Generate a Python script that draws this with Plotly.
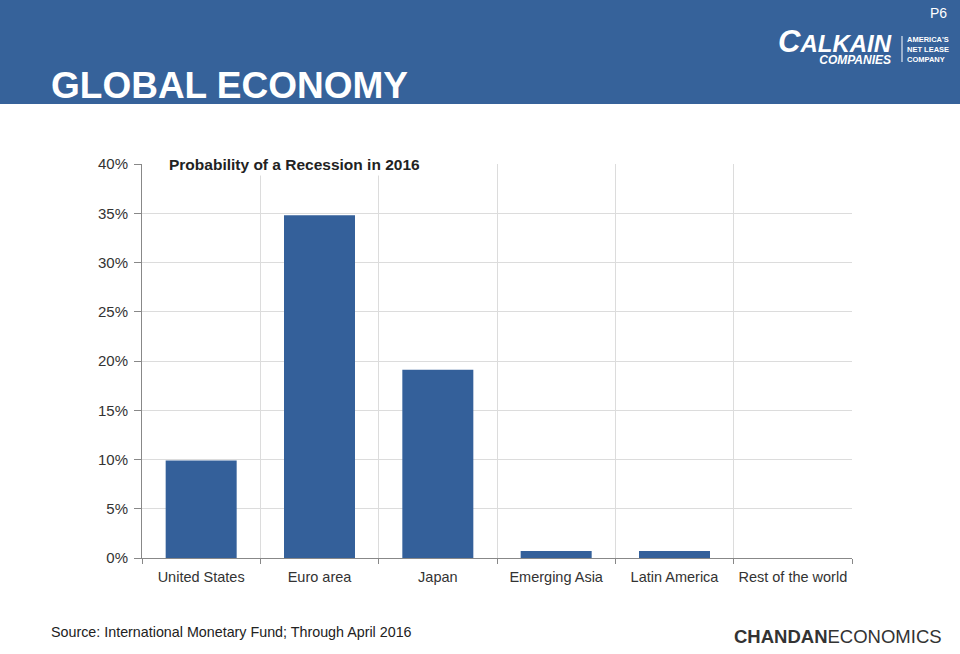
import plotly.graph_objects as go

categories = ["United States", "Euro area", "Japan", "Emerging Asia", "Latin America", "Rest of the world"]
probabilities = [9.9, 34.8, 19.1, 0.7, 0.7, 0.0]
y_ticks = [0, 5, 10, 15, 20, 25, 30, 35, 40]
y_tick_labels = [f"{v}%" for v in y_ticks]

HEADER = "#36629a"
BAR = "#34609a"
FONT = "Liberation Sans, Arial, sans-serif"

fig = go.Figure()
fig.add_trace(go.Bar(x=categories, y=probabilities, marker=dict(color=BAR, line=dict(width=0)),
                     width=0.6, hoverinfo="x+y"))

logo_text = ("<b><i><span style='font-size:31px'>C</span><span style='font-size:24px'>ALKAIN</span>"
             "<br><span style='font-size:12px'>COMPANIES</span></i></b>")

fig.update_layout(
    width=960, height=654,
    margin=dict(l=142, r=108, t=164, b=96),
    paper_bgcolor="white", plot_bgcolor="white",
    showlegend=False,
    font=dict(family=FONT, size=14, color="#333333"),
    xaxis=dict(type="category", tickson="boundaries", showgrid=True, gridcolor="#dcdcdc", gridwidth=1,
               showline=True, linecolor="#888888", linewidth=1, ticks="outside", ticklen=5,
               tickcolor="#888888", ticklabelstandoff=6, tickfont=dict(size=14.5, color="#333333")),
    yaxis=dict(range=[0, 40], tickvals=y_ticks, ticktext=y_tick_labels, showgrid=True,
               gridcolor="#dcdcdc", gridwidth=1, showline=True, linecolor="#888888", linewidth=1,
               ticks="outside", ticklen=7, tickcolor="#888888", zeroline=False,
               ticklabelstandoff=3, tickfont=dict(size=15, color="#333333")),
    shapes=[
        dict(type="rect", xref="paper", yref="paper", x0=-142/710, x1=1 + 108/710,
             y0=1 + 60/394, y1=1 + 164/394, fillcolor=HEADER, line=dict(width=0), layer="below"),
    ],
    annotations=[
        dict(text="<b>Probability of a Recession in 2016</b>", xref="paper", yref="paper",
             x=24/710, y=1.0, xanchor="left", yanchor="middle", showarrow=False,
             bgcolor="white", borderpad=2, font=dict(size=15.5, color="#222222", family=FONT)),
        dict(text="<b>GLOBAL ECONOMY</b>", xref="paper", yref="paper", x=-93/710, y=1 + 78/394,
             xanchor="left", yanchor="middle", showarrow=False,
             font=dict(size=37, color="white", family=FONT)),
        dict(text="P6", xref="paper", yref="paper", x=1 + 97/710, y=1 + 151/394,
             xanchor="right", yanchor="middle", showarrow=False,
             font=dict(size=14, color="white", family=FONT)),
        dict(text=logo_text, xref="paper", yref="paper",
             x=1 + 41/710, y=1 + 141/394, xanchor="right", yanchor="top", showarrow=False,
             align="right", borderpad=0,
             font=dict(size=9, color="white", family=FONT)),
        dict(text="<b>AMERICA'S<br>NET LEASE<br>COMPANY</b>", xref="paper", yref="paper",
             x=1 + 53/710, y=1 + 114/394, xanchor="left", yanchor="middle", showarrow=False,
             align="left", font=dict(size=7.5, color="white", family=FONT)),
        dict(text="Source: International Monetary Fund; Through April 2016", xref="paper", yref="paper",
             x=-93/710, y=-74/394, xanchor="left", yanchor="middle", showarrow=False,
             font=dict(size=14.3, color="#222222", family=FONT)),
        dict(text="<b>CHANDAN</b>ECONOMICS", xref="paper", yref="paper",
             x=1 + 92/710, y=-78/394, xanchor="right", yanchor="middle", showarrow=False,
             font=dict(size=18.5, color="#333333", family=FONT)),
    ],
)
fig.add_shape(type="line", xref="paper", yref="paper", x0=1 + 50/710, x1=1 + 50/710,
              y0=1 + 102/394, y1=1 + 128/394, line=dict(color="white", width=1))

fig.write_html("out.html", config={"displayModeBar": False},
               post_script="document.body.style.margin='0';")
